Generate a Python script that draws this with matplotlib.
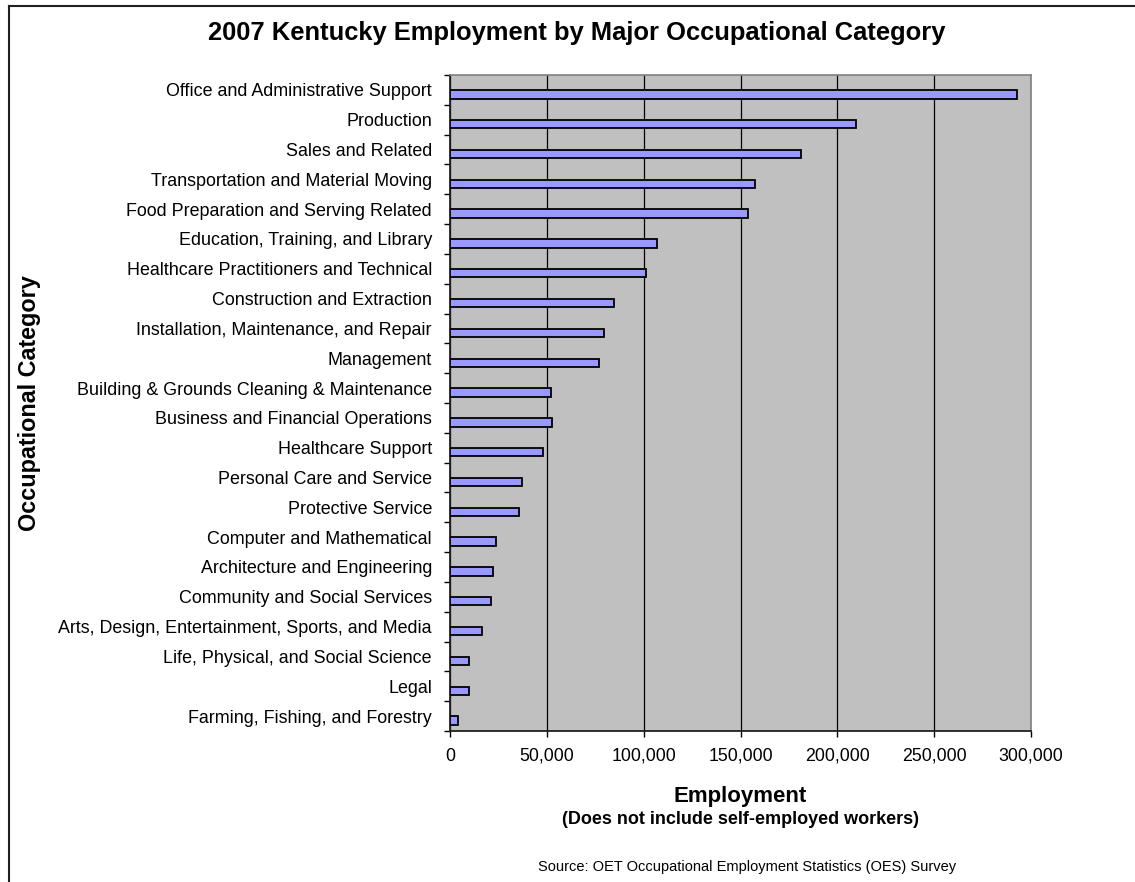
import numpy as np
import matplotlib.pyplot as plt
from matplotlib.lines import Line2D
from matplotlib.ticker import FuncFormatter

# %% data - 2007 Kentucky OES employment, top to bottom
categories = [
    'Office and Administrative Support',
    'Production',
    'Sales and Related',
    'Transportation and Material Moving',
    'Food Preparation and Serving Related',
    'Education, Training, and Library',
    'Healthcare Practitioners and Technical',
    'Construction and Extraction',
    'Installation, Maintenance, and Repair',
    'Management',
    'Building & Grounds Cleaning & Maintenance',
    'Business and Financial Operations',
    'Healthcare Support',
    'Personal Care and Service',
    'Protective Service',
    'Computer and Mathematical',
    'Architecture and Engineering',
    'Community and Social Services',
    'Arts, Design, Entertainment, Sports, and Media',
    'Life, Physical, and Social Science',
    'Legal',
    'Farming, Fishing, and Forestry',
]
employment = [292500, 209500, 181000, 157700, 153700, 107100, 101200,
              84600, 79600, 77100, 52200, 52400, 48000, 37200, 35600,
              23900, 22300, 21300, 16400, 9700, 9700, 4000]
xticks = [0, 50000, 100000, 150000, 200000, 250000, 300000]

plt.rcParams['font.family'] = ['Liberation Sans', 'DejaVu Sans']

# %% plot
fig = plt.figure(figsize=(11.35, 8.82), dpi=100)
ax = fig.add_axes([0.3965, 0.1712, 0.5119, 0.7438])
ax.set_facecolor('#C0C0C0')

n = len(categories)
ypos = np.arange(n)
# excel-style: bar sits a little below the category centre
ax.barh(ypos + 0.15, employment, height=0.28, color='#9999FF',
        edgecolor='black', linewidth=1.3, zorder=3)

ax.set_xlim(0, 300000)
ax.set_ylim(n - 0.5, -0.5)
ax.set_xticks(xticks)
ax.xaxis.set_major_formatter(FuncFormatter(lambda v, p: f'{int(v):,}'))
ax.grid(axis='x', color='black', linewidth=0.9, zorder=1)

ax.set_yticks(ypos)
ax.set_yticklabels(categories)
ax.set_yticks(np.arange(n + 1) - 0.5, minor=True)
ax.tick_params(axis='y', which='major', length=0, pad=13, labelsize=12.9)
ax.tick_params(axis='y', which='minor', length=4, width=1, direction='out')
ax.tick_params(axis='x', length=4, width=1, pad=8, labelsize=12.8)

for side in ['left', 'bottom']:
    ax.spines[side].set_color('#202020')
    ax.spines[side].set_linewidth(1.3)
for side in ['top', 'right']:
    ax.spines[side].set_color('#808080')
    ax.spines[side].set_linewidth(1.2)

fig.text(0.508, 0.9626, '2007 Kentucky Employment by Major Occupational Category',
         ha='center', va='center', fontsize=18.4, fontweight='bold')
fig.text(0.0264, 0.543, 'Occupational Category', rotation=90,
         ha='center', va='center', fontsize=16.8, fontweight='bold')
fig.text(0.6524, 0.0975, 'Employment', ha='center', va='center',
         fontsize=16, fontweight='bold')
fig.text(0.6524, 0.0703, '(Does not include self-employed workers)',
         ha='center', va='center', fontsize=13, fontweight='bold')
fig.text(0.658, 0.017, 'Source: OET Occupational Employment Statistics (OES) Survey',
         ha='center', va='center', fontsize=10.5)

# chart border (left and top edges)
fig.add_artist(Line2D([0.008, 0.008], [0.0, 0.993], transform=fig.transFigure,
                      color='#202020', linewidth=1.5))
fig.add_artist(Line2D([0.008, 1.0], [0.993, 0.993], transform=fig.transFigure,
                      color='#202020', linewidth=1.5))

fig.savefig('out.png', dpi=100)
